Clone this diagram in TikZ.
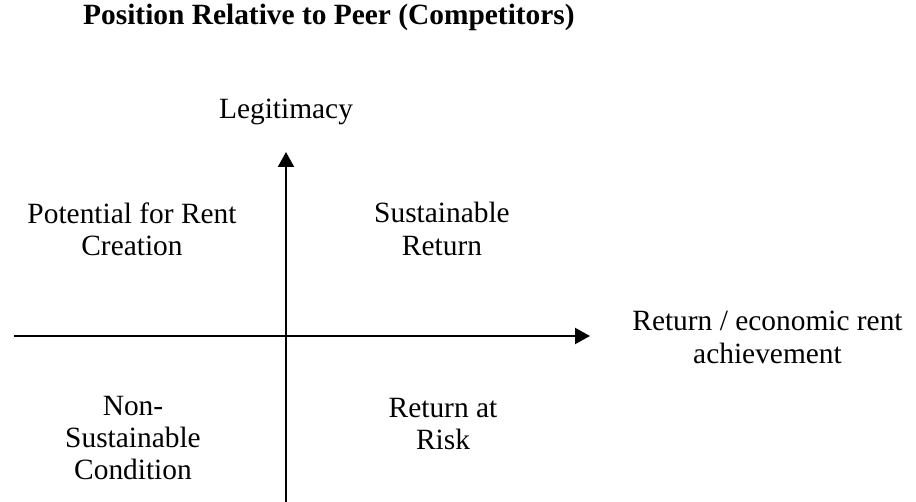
\documentclass[tikz,border=0pt]{standalone}
\usepackage{fontspec}
\setmainfont{Liberation Serif}
\usetikzlibrary{arrows.meta}

\begin{document}
\begin{tikzpicture}[x=1bp,y=-1bp,
		lbl/.style={align=center,inner sep=0pt,font=\fontsize{29.4bp}{32.3bp}\selectfont},
		ttl/.style={lbl,font=\fontsize{29.4bp}{32.3bp}\selectfont\bfseries},
		ax/.style={-{Triangle[length=15bp,width=16bp]},line width=2.2bp}
		]
		\useasboundingbox (0,0) rectangle (916,502);
		\node[ttl,anchor=west] (title) at (83,17) {Position Relative to Peer (Competitors)};
		\node[lbl] (legit) at (286,112) {Legitimacy};
		\node[lbl] (ret) at (767.5,337.5) {Return / economic rent\\achievement};
		\node[lbl] (pot) at (132,229) {Potential for Rent\\Creation};
		\node[lbl] (sus) at (442,229) {Sustainable\\Return};
		\node[lbl] (non) at (133,438) {Non-\\Sustainable\\Condition};
		\node[lbl] (risk) at (443,424) {Return at\\Risk};
		% axes
		\coordinate (xs) at (14,336); \coordinate (xe) at (590,336);
		\coordinate (ys) at (286,502); \coordinate (ye) at (286,152);
		\draw[ax] (xs)--(xe);
		\draw[ax] (ys)--(ye);
	\end{tikzpicture}
\end{document}
